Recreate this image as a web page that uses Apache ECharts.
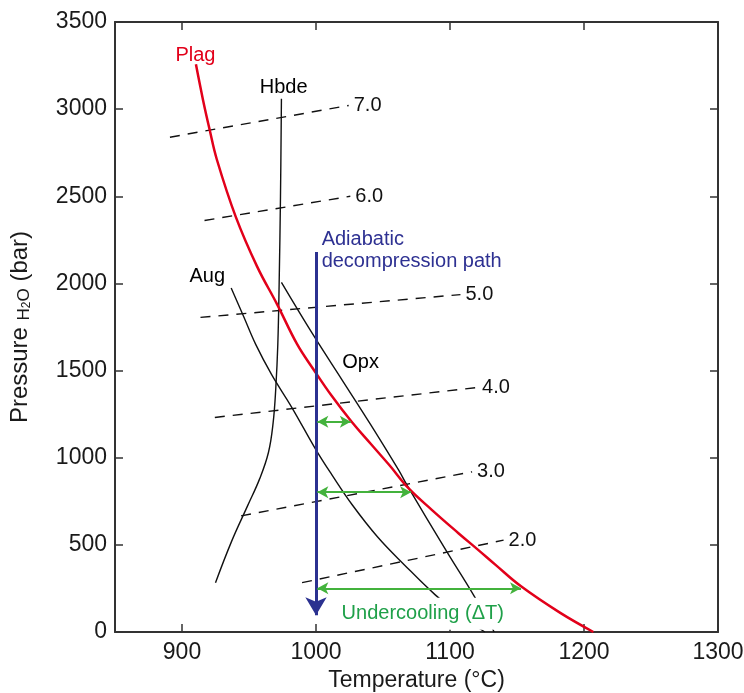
<!DOCTYPE html>
<html>
<head>
<meta charset="utf-8">
<title>Undercooling diagram</title>
<script src="https://cdn.jsdelivr.net/npm/echarts@6.0.0/dist/echarts.min.js"></script>
<style>
  html, body { margin: 0; padding: 0; background: #fff; }
  #main { width: 744px; height: 693px; }
</style>
</head>
<body>
<div id="main"></div>
<script>
// phase boundaries, [temperature °C, pressure bar]
var plagCurve = [[910.4,3257],[915.6,3056],[920.6,2883],[926,2711],[940,2385],[956,2098],[971,1880],
  [986,1650],[998.3,1505],[1011.7,1355],[1026.6,1206],[1040.8,1080],[1055,955],[1069,825],
  [1086.4,701],[1106.3,567],[1121,471],[1134,385],[1153,262],[1182,111],[1207,0]];
var hbdeCurve = [[974.2,3059],[973.5,2500],[972.5,2000],[971.5,1650],[970,1400],[968,1200],
  [964.5,1030],[958,880],[949,725],[937,520],[925,283]];
var augCurve = [[936.7,1974],[946,1810],[955,1650],[967,1475],[982,1288],[1000,1045],
  [1012,900],[1027,730],[1046,545],[1066,385],[1089,213],[1108,95],[1126,0]];
var opxCurve = [[974.2,2006],[997,1716],[1020,1440],[1040.8,1190],[1061.6,930],[1067.8,844],
  [1097.6,461],[1117.5,213],[1133,0]];

// water isopleths (dashed), start and end
var isoLabels = ['7.0','6.0','5.0','4.0','3.0','2.0'];
var isoLines = [
  [[891,2839],[1024.4,3021]],
  [[916.8,2361],[1025.6,2500]],
  [[913.8,1805],[1107.8,1936]],
  [[924.5,1231],[1120.2,1403]],
  [[944.1,666],[1116.5,919]],
  [[989.6,283],[1140,527]]
];

// decompression path [T, P top, P bottom]
var pathArrow = [1000, 2180, 96];
// undercooling arrows [T start, T end, P]
var coolingArrows = [[1001,1026,1206],[1001,1071,802],[1001,1153,251]];

// curve labels [T, P, text]
var curveLabels = [[910,3308,'Plag'],[975.9,3125,'Hbde'],[918.9,2039,'Aug'],[1033.3,1545,'Opx']];

var xTicks = [900,1000,1100,1200,1300];

var font = 'Liberation Sans, Arial, sans-serif';
var chart = echarts.init(document.getElementById('main'));

var series = [];
series.push({
  name: 'Plag', type: 'line', data: plagCurve, showSymbol: false, smooth: 0.4, z: 3,
  lineStyle: { color: '#e2001a', width: 2.5 }
});
[hbdeCurve, augCurve, opxCurve].forEach(function (c, i) {
  series.push({
    name: ['Hbde','Aug','Opx'][i], type: 'line', data: c, showSymbol: false, smooth: 0.4, z: 2,
    lineStyle: { color: '#111', width: 1.4 }
  });
});
isoLines.forEach(function (l, i) {
  series.push({
    name: isoLabels[i], type: 'line', data: l, showSymbol: false, z: 2,
    lineStyle: { color: '#111', width: 1.4, type: [10, 8] },
    endLabel: { show: true, formatter: isoLabels[i], distance: 5,
      fontSize: 20, color: '#111', fontFamily: font }
  });
});
series.push({
  name: 'arrows', type: 'line', data: [], z: 4,
  markLine: {
    silent: true, animation: false,
    label: { show: false },
    data: [[
      { coord: [pathArrow[0], pathArrow[1]], symbol: 'none',
        lineStyle: { color: '#2b3190', width: 3, type: 'solid' } },
      { coord: [pathArrow[0], pathArrow[2]], symbol: 'arrow', symbolSize: [16, 18] }
    ]].concat(coolingArrows.map(function (a) {
      return [
        { coord: [a[0], a[2]], symbol: 'arrow', symbolSize: [9, 11],
          lineStyle: { color: '#43b23c', width: 2, type: 'solid' } },
        { coord: [a[1], a[2]], symbol: 'arrow', symbolSize: [9, 11] }
      ];
    }))
  }
});
series.push({
  name: 'labels', type: 'scatter', symbolSize: 0, z: 10, silent: true,
  itemStyle: { opacity: 1 },
  data: curveLabels.map(function (c) {
    return { value: [c[0], c[1]], name: c[2],
      label: { color: c[2] === 'Plag' ? '#e2001a' : '#000' } };
  }).concat([
    { value: [1004.2, 2190], name: 'Adiabatic\ndecompression path',
      label: { color: '#2e3192', align: 'left', lineHeight: 22 } },
    { value: [1012.4, 105], name: 'Undercooling (ΔT)',
      label: { color: '#1fa049', align: 'left', backgroundColor: '#fff',
        padding: [6, 10, 6, 9] } }
  ]),
  label: { show: true, position: 'inside', formatter: '{b}', fontSize: 20, fontFamily: font, opacity: 1 }
});

var axisLine = { show: true, onZero: false, lineStyle: { color: '#333', width: 2 } };
var tick = { show: true, inside: true, length: 8, lineStyle: { color: '#333', width: 1.5 } };
var plain = function (v) { return String(v); };

chart.setOption({
  animation: false,
  grid: { left: 115, right: 26, top: 22, bottom: 61, outerBoundsMode: 'none', containLabel: false },
  xAxis: [{
    type: 'value', min: 850, max: 1300, position: 'bottom',
    name: 'Temperature (°C)', nameLocation: 'middle', nameGap: 36,
    nameTextStyle: { fontSize: 23, color: '#1a1a1a', fontFamily: font },
    axisLine: axisLine, splitLine: { show: false },
    axisTick: Object.assign({ customValues: xTicks }, tick),
    axisLabel: { customValues: xTicks, formatter: plain, fontSize: 23, color: '#1a1a1a',
      fontFamily: font, margin: 9 }
  }, {
    type: 'value', min: 850, max: 1300, position: 'top',
    axisLine: axisLine, splitLine: { show: false },
    axisTick: Object.assign({ customValues: xTicks }, tick),
    axisLabel: { show: false }
  }],
  yAxis: [{
    type: 'value', min: 0, max: 3500, interval: 500, position: 'left',
    name: '{p|Pressure }{s|H}{t|2}{s|O}{p| (bar)}', nameLocation: 'middle', nameGap: 80, nameRotate: 90,
    nameTextStyle: { fontSize: 23, color: '#1a1a1a', fontFamily: font,
      rich: {
        p: { fontSize: 24, fontFamily: font, color: '#1a1a1a', lineHeight: 30 },
        s: { fontSize: 17, fontFamily: font, color: '#1a1a1a', padding: [8, 0, 0, 0] },
        t: { fontSize: 12, fontFamily: font, color: '#1a1a1a', padding: [14, 0, 0, 0] }
      } },
    axisLine: axisLine, splitLine: { show: false }, axisTick: tick,
    axisLabel: { formatter: plain, fontSize: 23, color: '#1a1a1a', fontFamily: font, margin: 8 }
  }, {
    type: 'value', min: 0, max: 3500, interval: 500, position: 'right',
    axisLine: axisLine, splitLine: { show: false }, axisTick: tick,
    axisLabel: { show: false }
  }],
  series: series
});
</script>
</body>
</html>
